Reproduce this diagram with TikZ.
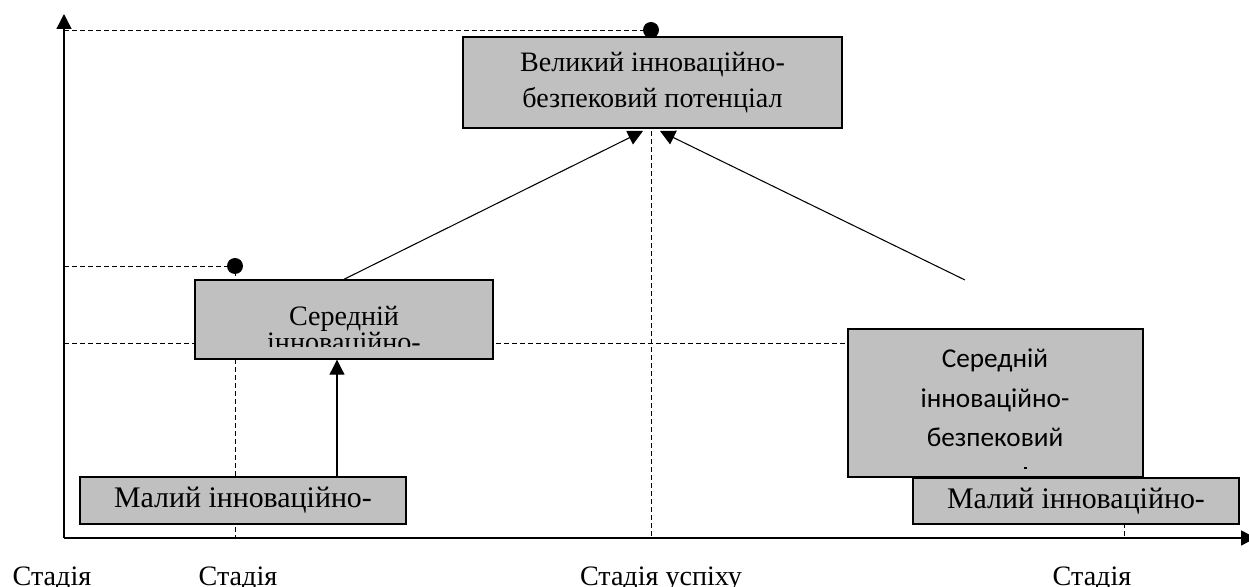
\documentclass[tikz,border=0pt]{standalone}
\usepackage{fontspec}
\setmainfont{Liberation Serif}
\newfontfamily\calibrifont{Carlito}
\usetikzlibrary{arrows.meta,calc}
\definecolor{boxgray}{HTML}{C0C0C0}
\newcommand{\serifsize}{\fontsize{16}{20.5}\selectfont}
\newcommand{\smallsize}{\fontsize{17}{21}\selectfont}
\newcommand{\sanssize}{\calibrifont\fontsize{15.5}{22}\selectfont}

\begin{document}
\begin{tikzpicture}[scale=0.2]
	\tikzstyle{every node}+=[inner sep=0pt]
	\tikzstyle{box}=[draw=black, fill=boxgray, line width=0.8pt, rectangle]
	\tikzstyle{dot}=[circle, fill=black, minimum size=0.32cm]
	\tikzstyle{guide}=[black, line width=0.5pt, dash pattern=on 0.1cm off 0.06cm]
	\tikzstyle{axis}=[black, line width=0.8pt, -{Triangle[length=0.3cm,width=0.3cm]}]
	\tikzstyle{link}=[black, line width=0.6pt, -{Triangle[length=0.3cm,width=0.3cm]}]
	\tikzstyle{lbl}=[font=\serifsize, anchor=base]
	\useasboundingbox (0,0) rectangle (124.9,-58.7);
	\clip (0,0) rectangle (124.9,-58.7);
	\coordinate (O) at (6.4,-53.8);
	\coordinate (yend) at (6.4,-1.4);
	\coordinate (xend) at (125.6,-53.8);
	\coordinate (bigpt) at (65.1,-3.0);
	\coordinate (midpt) at (23.5,-26.6);
	\coordinate (guideR) at (112.4,-34.3);
	\draw [guide] (O |- bigpt) -- (bigpt) -- (bigpt |- O);
	\draw [guide] (O |- midpt) -- (midpt) -- (midpt |- O);
	\draw [guide] (O |- guideR) -- (guideR) -- (guideR |- O);
	\draw [axis] (O) -- (yend);
	\draw [axis] (O) -- (xend);
	\node [box, minimum width=7.58cm, minimum height=1.82cm, align=center, font=\serifsize] (big) at (65.25,-8.25) {Великий інноваційно-\\безпековий потенціал};
	\node [box, minimum width=5.96cm, minimum height=1.58cm] (midL) at (34.4,-31.95) {};
	\node [box, minimum width=6.52cm, minimum height=0.94cm, font=\smallsize] (smallL) at (24.3,-50.05) {Малий інноваційно-};
	\node [box, minimum width=5.9cm, minimum height=2.96cm] (midR) at (99.55,-40.3) {};
	\node [box, minimum width=6.52cm, minimum height=0.92cm, font=\smallsize] (smallR) at (107.6,-50.1) {Малий інноваційно-};
	\begin{scope}
		\clip (midL.north west) rectangle ($(midL.south east)+(0,1.3)$);
		\node [lbl] (midLa) at (34.4,-32.5) {Середній};
		\node [lbl] (midLb) at (34.4,-35.1) {інноваційно-};
	\end{scope}
	\node [font=\sanssize, anchor=base] (midRa) at (99.5,-36.7) {Середній};
	\node [font=\sanssize, anchor=base] (midRb) at (99.5,-40.7) {інноваційно-};
	\node [font=\sanssize, anchor=base] (midRc) at (99.5,-44.6) {безпековий};
	% cut-off line below
	\fill [black] (102.35,-46.7) rectangle ++(0.3,-0.15);
	\node [dot] (bigdot) at (bigpt) {};
	\node [dot] (middot) at (midpt) {};
	\coordinate (tipL) at (64.3,-13.1);
	\coordinate (tipR) at (66.0,-13.1);
	\coordinate (freeR) at (96.5,-28.0);
	\coordinate (upx) at (33.7,0);
	\draw [link] (midL.north) -- (tipL);
	\draw [link] (freeR) -- (tipR);
	\draw [link] (smallL.north -| upx) -- (midL.south -| upx);
	\node [lbl] (st1) at (5.2,-58.5) {Стадія};
	\node [lbl] (st2) at (23.8,-58.5) {Стадія};
	\node [lbl] (st3) at (66.1,-58.5) {Стадія успіху};
	\node [lbl] (st4) at (109.2,-58.5) {Стадія};
\end{tikzpicture}
\end{document}
